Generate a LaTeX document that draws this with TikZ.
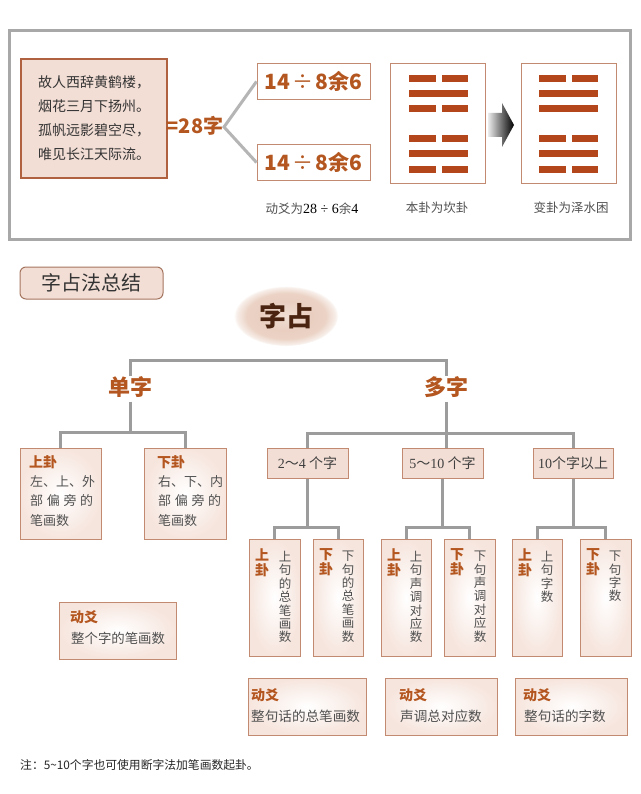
\documentclass[tikz,border=0pt]{standalone}
\usepackage{fontspec}
\setmainfont{Liberation Serif}
\newfontfamily\cjk{Noto Sans CJK SC}
\usetikzlibrary{shapes.geometric}
\definecolor{brownT}{HTML}{B4561F}
\definecolor{bord}{HTML}{C28A70}
\definecolor{pinkF}{HTML}{F3DED5}
\definecolor{pinkL}{HTML}{F6E5DD}
\definecolor{poemB}{HTML}{B0613F}
\definecolor{barC}{HTML}{B4461C}
\definecolor{lineG}{HTML}{9C9C9C}
\definecolor{frameG}{HTML}{A8A8A8}
\definecolor{textG}{HTML}{505050}
\definecolor{darkB}{HTML}{4A2410}
\definecolor{ellC}{HTML}{E4C3B1}
\pgfdeclareradialshading{ellsh}{\pgfpoint{0bp}{0bp}}{%
  color(0bp)=(ellC!55!white); color(12bp)=(ellC!80!white); color(19bp)=(ellC!75!white);
  color(24bp)=(ellC!25!white); color(25bp)=(white); color(50bp)=(white)}
\begin{document}
\begin{tikzpicture}[x=1pt,y=-1pt,
  conn/.style={draw=lineG, line width=3pt},
  gbox/.style={draw=bord, line width=1pt, inner color=white, outer color=pinkL, inner sep=0pt},
  fbox/.style={draw=bord, line width=1pt, fill=pinkF, inner sep=0pt},
  wbox/.style={draw=bord, line width=1pt, fill=white, inner sep=0pt},
  lab/.style={font=\cjk\bfseries\fontsize{14}{15}\selectfont, text=brownT, inner sep=0pt},
  body/.style={font=\cjk\fontsize{13}{19.5}\selectfont, text=textG, inner sep=0pt},
  vlab/.style={font=\cjk\bfseries\fontsize{14}{15}\selectfont, text=brownT, inner sep=0pt, align=center, anchor=north},
  vbody/.style={font=\cjk\fontsize{12.5}{13.4}\selectfont, text=textG, inner sep=0pt, align=center, anchor=north},
  bar/.style={fill=barC},
]
\useasboundingbox (0,0) rectangle (640,794);
\fill[white] (0,0) rectangle (640,794);

% ---------- top panel ----------
\draw[draw=frameG, line width=3pt] (9,31) rectangle (630,239);

\node[draw=poemB, line width=1.2pt, fill=pinkF, minimum width=146pt, minimum height=119pt,
      inner sep=0pt, align=center, font=\cjk\fontsize{14}{24}\selectfont, text=black!80] (poem) at (94,118.5)
  {故人西辞黄鹤楼，\\烟花三月下扬州。\\孤帆远影碧空尽，\\唯见长江天际流。};

\node[font=\cjk\bfseries\fontsize{20}{22}\selectfont, text=brownT, inner sep=0pt] (eq) at (195,126) {=28字};
\coordinate (v) at (224,127);

\node[wbox, minimum width=113pt, minimum height=36pt, font=\cjk\bfseries\fontsize{21}{22}\selectfont, text=brownT] (b1) at (313.5,81.5) {14\hspace{2pt}{\mdseries ÷}\hspace{2pt}8余6};
\node[wbox, minimum width=113pt, minimum height=36pt, font=\cjk\bfseries\fontsize{21}{22}\selectfont, text=brownT] (b2) at (313.5,162.5) {14\hspace{2pt}{\mdseries ÷}\hspace{2pt}8余6};
\draw[draw=lineG!75, line width=3pt, line join=miter] (b1.west) -- (v) -- (b2.west);

\node[font=\cjk\fontsize{12.5}{14}\selectfont, text=textG, inner sep=0pt] (cap1) at (312,209)
  {动爻为{\rmfamily\fontsize{14}{14}\selectfont\color{black} 28 ÷ 6}余{\rmfamily\fontsize{14}{14}\selectfont\color{black} 4}};

\node[wbox, minimum width=95pt, minimum height=120pt] (h1) at (438.25,124) {};
\node[wbox, minimum width=95pt, minimum height=120pt] (h2) at (569,124) {};
\node[font=\cjk\fontsize{12.5}{14}\selectfont, text=textG, inner sep=0pt] (cap2) at (437,208) {本卦为坎卦};
\node[font=\cjk\fontsize{12.5}{14}\selectfont, text=textG, inner sep=0pt] (cap3) at (571,208) {变卦为泽水困};

% hexagram 1 (kan over kan)
\foreach \y in {79,109,139,170} {
  \fill[bar] (409,\y-3.5) rectangle (436,\y+3.5);
  \fill[bar] (442,\y-3.5) rectangle (468,\y+3.5);
}
\foreach \y in {94,154} { \fill[bar] (409,\y-3.5) rectangle (468,\y+3.5); }
% hexagram 2 (dui over kan)
\foreach \y in {79,139,170} {
  \fill[bar] (539,\y-3.5) rectangle (566,\y+3.5);
  \fill[bar] (572,\y-3.5) rectangle (598,\y+3.5);
}
\foreach \y in {94,109,154} { \fill[bar] (539,\y-3.5) rectangle (598,\y+3.5); }

% block arrow
\shade[left color=white!92!black, right color=black]
  (488,113) -- (502,113) -- (502,103) -- (514,125) -- (502,147) -- (502,137) -- (488,137) -- cycle;

% ---------- summary ----------
\node[draw=bord!85!black, line width=1pt, fill=pinkF, rounded corners=6pt, minimum width=143pt, minimum height=32pt,
      inner sep=0pt, font=\cjk\fontsize{20}{22}\selectfont, text=black!80] (title) at (91.5,283) {字占法总结};

\node[ellipse, minimum width=104pt, minimum height=60pt, shading=ellsh,
      font=\cjk\bfseries\fontsize{27}{28}\selectfont, text=darkB, inner sep=0pt] (root) at (286,316) {字占};

\node[font=\cjk\bfseries\fontsize{22}{24}\selectfont, text=brownT, inner sep=0pt] (dan) at (130,387) {单字};
\node[font=\cjk\bfseries\fontsize{22}{24}\selectfont, text=brownT, inner sep=0pt] (duo) at (446,387) {多字};
\draw[conn] (dan.north) -- ++(0,-16) -| (duo.north);

% single-character branch
\node[gbox, minimum width=81pt, minimum height=91pt] (sg) at (60.5,493.5) {};
\node[gbox, minimum width=82pt, minimum height=91pt] (xg) at (185,493.5) {};
\coordinate (jd) at (130,432);
\draw[conn, shorten <=4pt] (dan.south) -- (jd);
\draw[conn] (sg.north) |- (jd) -| (xg.north);

\node[lab, anchor=west] (sgl) at (29,462) {上卦};
\node[body, anchor=north west, align=left] (sgt) at (30,475)
  {左、上、外\\\makebox[63pt][s]{部\hfill 偏\hfill 旁\hfill 的}\\\makebox[36pt][s]{笔\hfill 画\hfill 数}};
\node[lab, anchor=west] (xgl) at (157,462) {下卦};
\node[body, anchor=north west, align=left] (xgt) at (158,475)
  {右、下、内\\\makebox[63pt][s]{部\hfill 偏\hfill 旁\hfill 的}\\\makebox[36pt][s]{笔\hfill 画\hfill 数}};

\node[gbox, minimum width=117pt, minimum height=57pt] (dy0) at (117.5,630.5) {};
\node[lab, anchor=west] (dy0l) at (70,617) {动爻};
\node[body, anchor=west, font=\cjk\fontsize{13.4}{15}\selectfont] (dy0t) at (71,638) {整个字的笔画数};

% multi-character branch
\node[fbox, minimum width=81pt, minimum height=30pt, font=\cjk\fontsize{14}{16}\selectfont, text=black!75] (g1) at (307.5,463) {{\rmfamily 2}～{\rmfamily 4} 个字};
\node[fbox, minimum width=81pt, minimum height=30pt, font=\cjk\fontsize{14}{16}\selectfont, text=black!75] (g2) at (442.5,463) {{\rmfamily 5}～{\rmfamily 10} 个字};
\node[fbox, minimum width=80pt, minimum height=30pt, font=\cjk\fontsize{14}{16}\selectfont, text=black!75] (g3) at (573,463) {{\rmfamily 10}个字以上};
\coordinate (jm) at (446,433);
\draw[conn, shorten <=4pt] (duo.south) -- (duo.south |- g2.north);
\draw[conn] (g1.north) |- (jm) -| (g3.north);

\node[gbox, minimum width=51pt, minimum height=117pt] (c1a) at (274.5,597.5) {};
\node[gbox, minimum width=50pt, minimum height=117pt] (c1b) at (338,597.5) {};
\node[gbox, minimum width=50pt, minimum height=117pt] (c2a) at (406,597.5) {};
\node[gbox, minimum width=51pt, minimum height=117pt] (c2b) at (469.5,597.5) {};
\node[gbox, minimum width=50pt, minimum height=117pt] (c3a) at (537,597.5) {};
\node[gbox, minimum width=51pt, minimum height=117pt] (c3b) at (605.5,597.5) {};

\draw[conn] (g1.south) -- ++(0,49) coordinate (j1);
\draw[conn] (c1a.north) |- (j1) -| (c1b.north);
\draw[conn] (g2.south) -- ++(0,49) coordinate (j2);
\draw[conn] (c2a.north) |- (j2) -| (c2b.north);
\draw[conn] (g3.south) -- ++(0,49) coordinate (j3);
\draw[conn] (c3a.north) |- (j3) -| (c3b.north);

\node[vlab] (c1al) at (262,548) {上\\卦};
\node[vbody] (c1at) at (285,551) {上\\句\\的\\总\\笔\\画\\数};
\node[vlab] (c1bl) at (326,548) {下\\卦};
\node[vbody] (c1bt) at (348,551) {下\\句\\的\\总\\笔\\画\\数};
\node[vlab] (c2al) at (394,548) {上\\卦};
\node[vbody] (c2at) at (416,551) {上\\句\\声\\调\\对\\应\\数};
\node[vlab] (c2bl) at (457,548) {下\\卦};
\node[vbody] (c2bt) at (480,551) {下\\句\\声\\调\\对\\应\\数};
\node[vlab] (c3al) at (525,548) {上\\卦};
\node[vbody] (c3at) at (547,551) {上\\句\\字\\数};
\node[vlab] (c3bl) at (593,548) {下\\卦};
\node[vbody] (c3bt) at (615,551) {下\\句\\字\\数};

\node[gbox, minimum width=118pt, minimum height=57pt] (dy1) at (307,706.5) {};
\node[gbox, minimum width=112pt, minimum height=57pt] (dy2) at (441,706.5) {};
\node[gbox, minimum width=112pt, minimum height=57pt] (dy3) at (571,706.5) {};
\node[lab, anchor=west] (dy1l) at (251,695) {动爻};
\node[body, anchor=west, font=\cjk\fontsize{13.6}{15}\selectfont] (dy1t) at (251,716) {整句话的总笔画数};
\node[lab, anchor=west] (dy2l) at (399,695) {动爻};
\node[body, anchor=west, font=\cjk\fontsize{13.6}{15}\selectfont] (dy2t) at (400,716) {声调总对应数};
\node[lab, anchor=west] (dy3l) at (523,695) {动爻};
\node[body, anchor=west, font=\cjk\fontsize{13.6}{15}\selectfont] (dy3t) at (524,716) {整句话的字数};

\node[font=\cjk\fontsize{11.8}{13}\selectfont, text=black!85, anchor=west, inner sep=0pt] (note) at (20,765)
  {注：5\textasciitilde 10个字也可使用断字法加笔画数起卦。};
\end{tikzpicture}
\end{document}
